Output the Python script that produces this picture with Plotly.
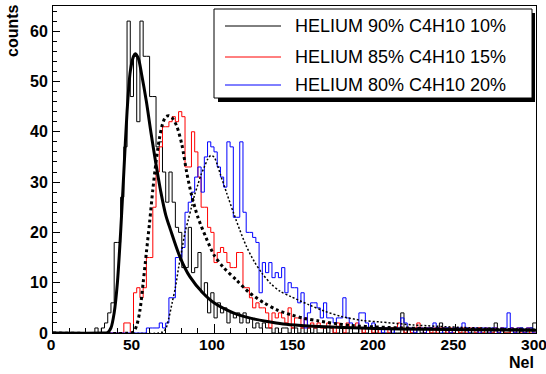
import numpy as np
import plotly.graph_objects as go

# ---------------- data ----------------
BIN_WIDTH = 2
X_MIN, X_MAX = 0, 300

SERIES_NAMES = ["HELIUM 90% C4H10 10%", "HELIUM 85% C4H10 15%", "HELIUM 80% C4H10 20%"]

# counts per bin (bins of width 2 from 0 to 300)
counts_he90 = [
    0, 0, 0, 0, 0, 0, 0, 0, 0, 0,
    0, 0, 0, 1, 0, 1, 2, 4, 6, 18,
    18, 27, 37, 62, 47, 55, 42, 62, 55, 55,
    47, 47, 37, 38, 32, 26, 32, 26, 21, 20,
    13, 13, 21, 12, 13, 16, 8, 10, 4, 8,
    3, 6, 4, 5, 2, 4, 3, 4, 2, 4,
    2, 3, 1, 2, 1, 2, 1, 1, 0, 1,
    0, 1, 1, 0, 1, 1, 0, 1, 0, 1,
    0, 1, 0, 0, 1, 0, 1, 0, 0, 1,
    0, 0, 1, 0, 0, 1, 0, 0, 1, 0,
    0, 1, 0, 0, 0, 1, 0, 0, 4, 0,
    1, 0, 0, 1, 0, 0, 1, 0, 0, 1,
    2, 0, 1, 0, 0, 1, 0, 0, 1, 0,
    0, 0, 1, 0, 0, 1, 0, 2, 0, 1,
    0, 0, 1, 0, 0, 1, 0, 0, 1, 2,
]
counts_he85 = [
    0, 0, 0, 0, 0, 0, 0, 0, 0, 0,
    0, 0, 0, 0, 0, 0, 0, 0, 0, 0,
    0, 0, 2, 2, 0, 8, 9, 7, 9, 15,
    15, 25, 32, 37, 41, 41, 42, 43, 42, 44,
    43, 33, 33, 40, 36, 31, 25, 25, 21, 20,
    14, 16, 17, 16, 14, 13, 13, 16, 16, 9,
    9, 7, 5, 6, 5, 5, 4, 1, 4, 3,
    4, 3, 2, 5, 1, 3, 3, 1, 3, 1,
    2, 1, 2, 1, 1, 2, 1, 0, 2, 1,
    0, 2, 1, 1, 2, 1, 0, 1, 1, 0,
    1, 0, 1, 1, 0, 1, 1, 2, 1, 0,
    1, 0, 1, 2, 1, 0, 1, 0, 1, 0,
    1, 1, 0, 1, 0, 1, 0, 1, 0, 1,
    1, 0, 1, 0, 1, 0, 0, 1, 0, 1,
    0, 0, 1, 0, 1, 0, 0, 1, 0, 0,
]
counts_he80 = [
    0, 0, 0, 0, 0, 0, 0, 0, 0, 0,
    0, 0, 0, 0, 0, 0, 0, 0, 0, 0,
    0, 0, 0, 0, 0, 0, 0, 0, 0, 1,
    1, 1, 1, 2, 1, 2, 7, 7, 15, 15,
    17, 24, 26, 28, 31, 33, 28, 35, 38, 37,
    36, 33, 31, 29, 38, 37, 23, 23, 38, 24,
    20, 20, 19, 18, 8, 14, 12, 14, 11, 12,
    11, 13, 8, 10, 9, 9, 6, 8, 1, 4,
    6, 6, 5, 3, 6, 3, 3, 2, 3, 3,
    7, 3, 2, 1, 1, 4, 4, 2, 1, 2,
    1, 1, 0, 1, 1, 0, 1, 1, 3, 2,
    1, 1, 0, 1, 1, 0, 1, 1, 2, 1,
    0, 1, 1, 0, 1, 1, 1, 2, 1, 0,
    1, 1, 0, 1, 1, 0, 1, 1, 0, 1,
    1, 4, 1, 0, 1, 1, 0, 1, 1, 0,
]

# fitted curves
fit90_x = [0, 30, 34, 36, 38, 40, 42, 44, 46, 48, 50, 51, 53, 55, 58, 61, 64, 67, 70, 73,
           79, 85, 93, 100, 112, 122, 133, 143, 154, 165, 180, 200, 230, 260, 300]
fit90_y = [0, 0, 0.1, 1, 4, 10, 20, 32, 44, 52, 55, 55.5, 54.6, 51.5, 46, 39.5, 33.5, 28, 23.5, 20.5,
           15, 11.2, 8, 6, 4, 3, 2.3, 1.8, 1.5, 1.3, 1.1, 0.9, 0.75, 0.65, 0.55]

fit85_x = [0, 48, 50, 52, 54, 56, 58, 60, 62, 64, 66, 68, 70, 72, 74, 77, 80, 83, 86, 90,
           95, 100, 106, 114, 122, 131, 139, 148, 156, 165, 177, 185, 200, 230, 260, 300]
fit85_y = [0, 0, 0.2, 1.5, 4.5, 10, 16, 22, 28.5, 34, 38.5, 41.5, 43, 43.2, 42.8, 41, 37.5, 32, 27.5, 23,
           19, 15.5, 13, 10.5, 8, 6, 4.6, 3.6, 2.9, 2.4, 1.8, 1.5, 1.2, 0.9, 0.7, 0.6]

fit80_x = [0, 66, 68, 70, 72, 74, 76, 78, 80, 82, 84, 86, 88, 90, 92, 94, 96, 98, 100, 102,
           104, 108, 112, 116, 120, 125, 130, 135, 141, 148, 159, 169, 179, 192, 203, 224, 255, 300]
fit80_y = [0, 0, 0.2, 0.8, 3, 6, 9, 13, 16.5, 20, 22.5, 25, 27.5, 29.5, 31.5, 33, 34.5, 35.3, 35, 33.5,
           31.5, 27.7, 24, 20.5, 17.3, 14.2, 11.8, 9.9, 8.3, 7.2, 5.6, 4.3, 3.3, 2.5, 2.2, 1.6, 1.1, 0.7]

# ---------------- styles ----------------
HIST_COLORS = ["#000000", "#ff0000", "#0000ff"]
FONT = "Liberation Sans"

edges = np.arange(X_MIN, X_MAX + BIN_WIDTH, BIN_WIDTH)

fig = go.Figure()
for name, vals, col in zip(SERIES_NAMES, [counts_he90, counts_he85, counts_he80], HIST_COLORS):
    y = list(vals) + [vals[-1]]
    fig.add_trace(go.Scatter(x=edges, y=y, mode="lines", line_shape="hv", name=name,
                             line=dict(color=col, width=1), hoverinfo="skip"))

fig.add_trace(go.Scatter(x=fit90_x, y=fit90_y, mode="lines", line_shape="spline",
                         line=dict(color="black", width=3, smoothing=0.8), hoverinfo="skip"))
fig.add_trace(go.Scatter(x=fit85_x, y=fit85_y, mode="lines", line_shape="spline",
                         line=dict(color="black", width=3, dash="dot", smoothing=0.8), hoverinfo="skip"))
fig.add_trace(go.Scatter(x=fit80_x, y=fit80_y, mode="lines", line_shape="spline",
                         line=dict(color="black", width=1.5, dash="2px,2px", smoothing=0.8), hoverinfo="skip"))

W, H = 546, 374
ML, MR, MT, MB = 53, 10, 6, 41
PW, PH = W - ML - MR, H - MT - MB


def px_x(px):
    return (px - ML) / PW


def px_y(py):
    return (H - MB - py) / PH


axis_common = dict(showline=True, linecolor="black", linewidth=1, mirror=True,
                   ticks="inside", tickcolor="black", tickwidth=1,
                   showgrid=False, zeroline=False, automargin=False,
                   ticklabeloverflow="allow")

fig.update_layout(
    width=W, height=H,
    margin=dict(l=ML, r=MR, t=MT, b=MB, autoexpand=False),
    plot_bgcolor="white", paper_bgcolor="white",
    showlegend=False,
    xaxis=dict(range=[X_MIN, X_MAX], tick0=0, dtick=50, ticklen=9,
               minor=dict(dtick=10, ticklen=5, ticks="inside", tickcolor="black"),
               ticklabelstandoff=-3, ticklabelshift=-2,
               tickfont=dict(family=FONT, size=15.5, color="black", weight="bold"),
               **axis_common),
    yaxis=dict(range=[0, 65], tick0=0, dtick=10, ticklen=7,
               minor=dict(dtick=2, ticklen=4, ticks="inside", tickcolor="black"),
               ticklabelstandoff=1,
               tickfont=dict(family=FONT, size=16, color="black", weight="bold"),
               **axis_common),
)

# axis titles
fig.add_annotation(text="counts", xref="paper", yref="paper", x=px_x(12), y=px_y(31),
                   textangle=-90, showarrow=False, xanchor="center", yanchor="middle",
                   font=dict(family=FONT, size=16, color="black", weight="bold"))
fig.add_annotation(text="Nel", xref="paper", yref="paper", x=px_x(536), y=px_y(362),
                   showarrow=False, xanchor="right", yanchor="middle",
                   font=dict(family=FONT, size=16, color="black", weight="bold"))

# legend box with shadow
fig.add_shape(type="rect", xref="paper", yref="paper", x0=px_x(218), x1=px_x(535),
              y0=px_y(102), y1=px_y(13), fillcolor="black", line=dict(width=0), layer="above")
fig.add_shape(type="rect", xref="paper", yref="paper", x0=px_x(214), x1=px_x(532),
              y0=px_y(98), y1=px_y(9), fillcolor="white", line=dict(color="black", width=1), layer="above")
for name, col, py in zip(SERIES_NAMES, HIST_COLORS, [26, 57, 85]):
    fig.add_shape(type="line", xref="paper", yref="paper", x0=px_x(225), x1=px_x(281),
                  y0=px_y(py), y1=px_y(py), line=dict(color=col, width=1), layer="above")
    fig.add_annotation(text=name, xref="paper", yref="paper", x=px_x(293), y=px_y(py),
                       showarrow=False, xanchor="left", yanchor="middle",
                       font=dict(family=FONT, size=18, color="black"))

fig.write_html("out.html", config={"displayModeBar": False},
               post_script="document.body.style.margin='0';document.body.style.overflow='hidden';")
